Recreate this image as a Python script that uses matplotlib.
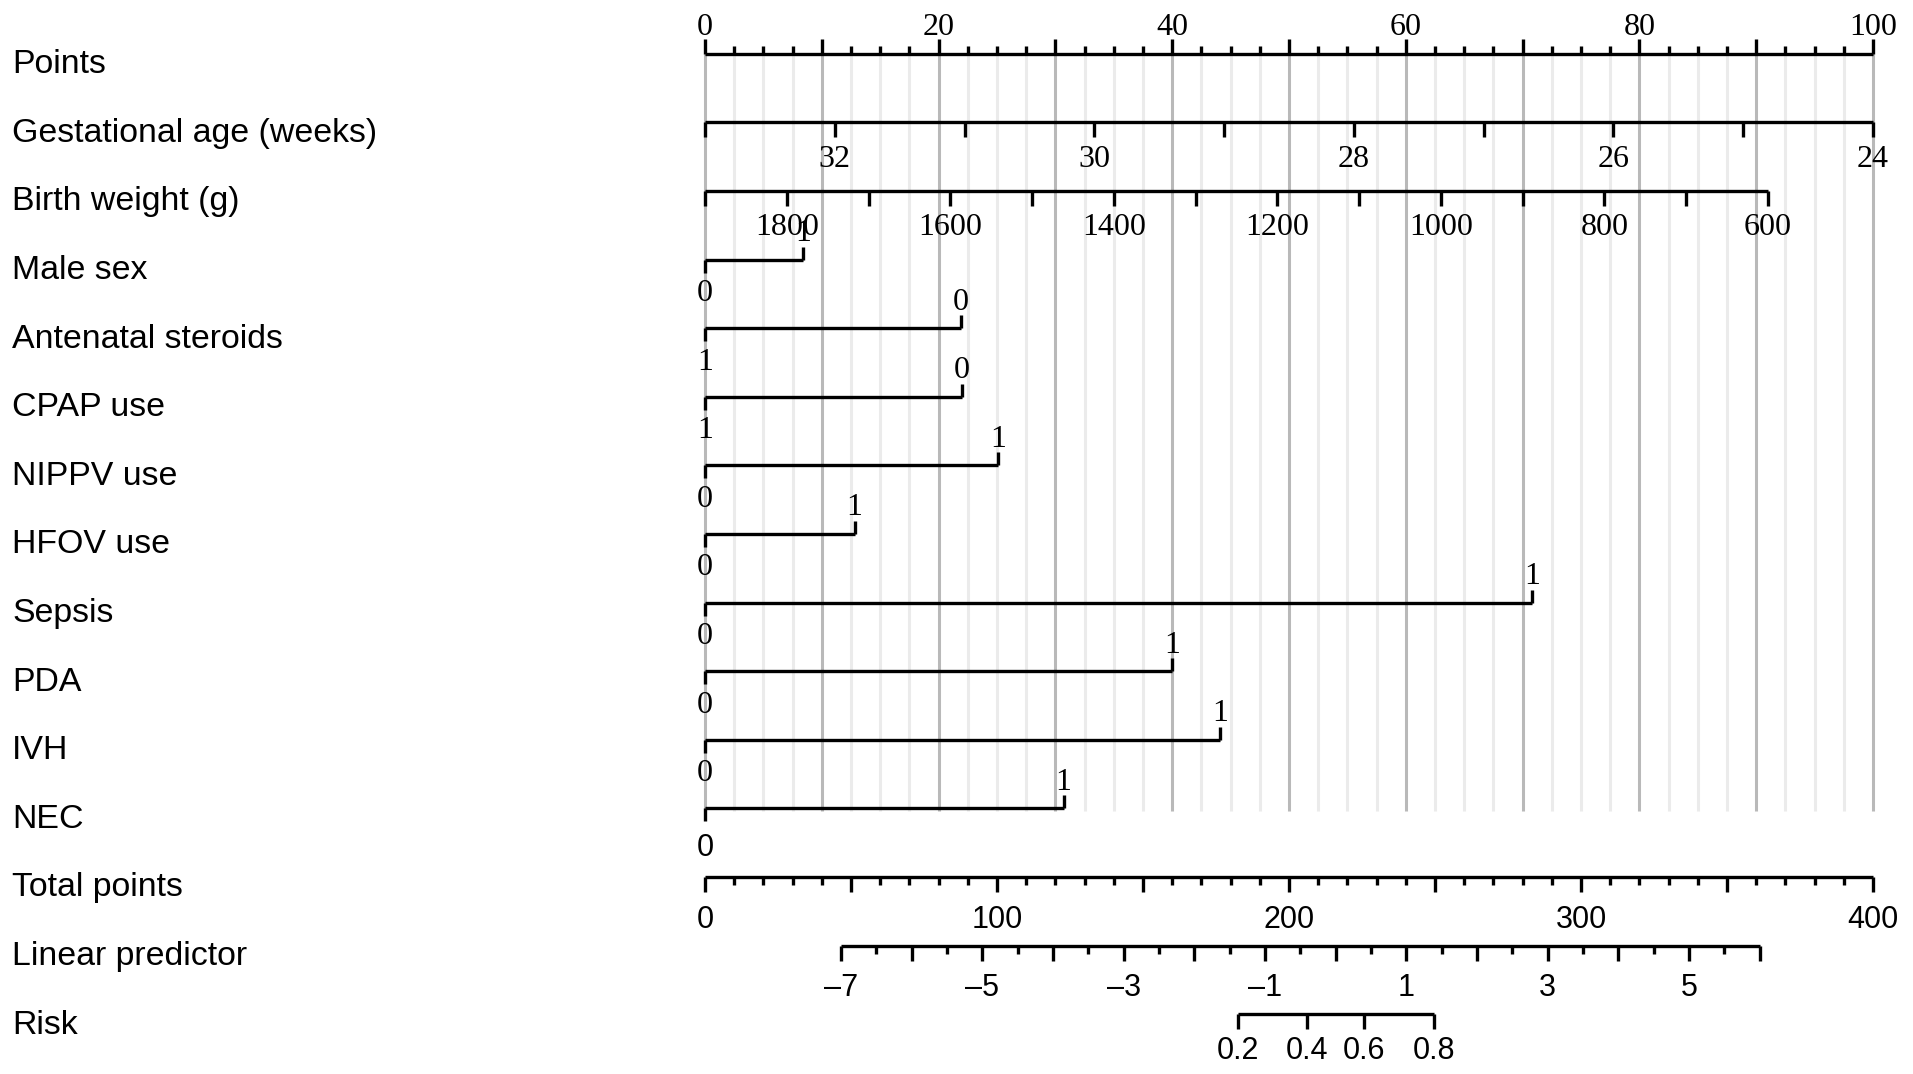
import numpy as np
import matplotlib.pyplot as plt

# Row names, top to bottom
row_labels = ['Points', 'Gestational age (weeks)', 'Birth weight (g)', 'Male sex',
              'Antenatal steroids', 'CPAP use', 'NIPPV use', 'HFOV use', 'Sepsis',
              'PDA', 'IVH', 'NEC', 'Total points', 'Linear predictor', 'Risk']

# Points scale
points_ticks = [i * 2.5 for i in range(41)]
points_labels = [0, 20, 40, 60, 80, 100]

# Gestational age: weeks -> points
ga_weeks = [33, 32, 31, 30, 29, 28, 27, 26, 25, 24]
ga_labels = [32, 30, 28, 26, 24]
ga_ends = (33, 24)
ga_ends_pts = (0, 100)

# Birth weight: grams -> points
bw_grams = [1900, 1800, 1700, 1600, 1500, 1400, 1300, 1200, 1100, 1000, 900, 800, 700, 600]
bw_labels = [1800, 1600, 1400, 1200, 1000, 800, 600]
bw_ends = (1900, 600)
bw_ends_pts = (0, 91)

# Binary predictors: points of the level on the right end
bin_names = ['Male sex', 'Antenatal steroids', 'CPAP use', 'NIPPV use', 'HFOV use',
             'Sepsis', 'PDA', 'IVH', 'NEC']
bin_points = [8.4, 21.9, 22.0, 25.1, 12.8, 70.8, 40.0, 44.1, 30.7]
bin_left = ['0', '1', '1', '0', '0', '0', '0', '0', '0']
bin_right = ['1', '0', '0', '1', '1', '1', '1', '1', '1']

# Total points
total_ticks = list(range(0, 401, 10))
total_labels = [0, 100, 200, 300, 400]
total_max = 400

# Linear predictor
lp_ticks = [-7 + 0.5 * i for i in range(27)]
lp_labels = [-7, -5, -3, -1, 1, 3, 5]
lp_zero_total = 216.0
lp_unit_total = 24.2

# Risk
risk_ticks = [0.2, 0.4, 0.6, 0.8]


def lin(v, ends, ends_pts):
    return ends_pts[0] + (np.asarray(v, float) - ends[0]) * (ends_pts[1] - ends_pts[0]) / (ends[1] - ends[0])


def total_to_x(t):
    return np.asarray(t, float) * 100.0 / total_max


def lp_to_x(lp):
    return total_to_x(lp_zero_total + np.asarray(lp, float) * lp_unit_total)


W, H = 1913, 1074
fig = plt.figure(figsize=(W / 100, H / 100), dpi=100)
ax = fig.add_axes([0, 0, 1, 1])
px0, px100 = 705, 1873
ppu = (px100 - px0) / 100.0
ax.set_xlim(-px0 / ppu, (W - px0) / ppu)
ax.set_ylim(H, 0)
ax.axis('off')

row_y = [53.7 + 68.6 * i for i in range(len(row_labels))]
yr = dict(zip(row_labels, row_y))

sans = ['Liberation Sans', 'DejaVu Sans']
serif = ['Liberation Serif', 'DejaVu Serif']
lw = 2.4
k = 'black'
dy = 4  # visual centring of digits

# left labels
for name, y in zip(row_labels, row_y):
    ax.text((12 - px0) / ppu, y + 7 + dy, name, family=sans, fontsize=24.4,
            ha='left', va='center')

# grid
y_top, y_bot = yr['Points'], yr['NEC'] + 3
for p in points_ticks:
    major = abs(p % 10) < 1e-9
    ax.plot([p, p], [y_top, y_bot], color='#b9b9b9' if major else '#ebebeb',
            lw=2.2, zorder=0, solid_capstyle='butt')

# Points axis
y = yr['Points']
ax.plot([0, 100], [y, y], color=k, lw=lw, solid_capstyle='butt')
for p in points_ticks:
    L = 15 if abs(p % 10) < 1e-9 else 8
    ax.plot([p, p], [y, y - L], color=k, lw=lw, solid_capstyle='butt')
for p in points_labels:
    ax.text(p, y - 30 + dy, str(p), family=serif, fontsize=23, ha='center', va='center')

# Gestational age
y = yr['Gestational age (weeks)']
xs = lin(ga_weeks, ga_ends, ga_ends_pts)
ax.plot([xs.min(), xs.max()], [y, y], color=k, lw=lw, solid_capstyle='butt')
for x in xs:
    ax.plot([x, x], [y, y + 15], color=k, lw=lw, solid_capstyle='butt')
for w in ga_labels:
    ax.text(lin(w, ga_ends, ga_ends_pts), y + 33 + dy, str(w), family=serif, fontsize=23,
            ha='center', va='center')

# Birth weight
y = yr['Birth weight (g)']
xs = lin(bw_grams, bw_ends, bw_ends_pts)
ax.plot([xs.min(), xs.max()], [y, y], color=k, lw=lw, solid_capstyle='butt')
for x in xs:
    ax.plot([x, x], [y, y + 15], color=k, lw=lw, solid_capstyle='butt')
for g in bw_labels:
    ax.text(lin(g, bw_ends, bw_ends_pts), y + 33 + dy, str(g), family=serif, fontsize=23,
            ha='center', va='center')

# Binary predictors
for name, pts, lo, hi in zip(bin_names, bin_points, bin_left, bin_right):
    y = yr[name]
    ax.plot([0, pts], [y, y], color=k, lw=lw, solid_capstyle='butt')
    ax.plot([0, 0], [y, y + 13], color=k, lw=lw, solid_capstyle='butt')
    ax.plot([pts, pts], [y, y - 13], color=k, lw=lw, solid_capstyle='butt')
    ax.text(pts, y - 30 + dy, hi, family=serif, fontsize=23, ha='center', va='center')
    if name == 'NEC':
        ax.text(0, y + 36 + dy, lo, family=sans, fontsize=22, ha='center', va='center')
    else:
        ax.text(0, y + 30 + dy, lo, family=serif, fontsize=23, ha='center', va='center')

# Total points
y = yr['Total points']
ax.plot(total_to_x([0, total_max]), [y, y], color=k, lw=lw, solid_capstyle='butt')
for t in total_ticks:
    L = 15 if t % 50 == 0 else 8
    x = total_to_x(t)
    ax.plot([x, x], [y, y + L], color=k, lw=lw, solid_capstyle='butt')
for t in total_labels:
    ax.text(total_to_x(t), y + 39 + dy, str(t), family=sans, fontsize=22,
            ha='center', va='center')

# Linear predictor
y = yr['Linear predictor']
ax.plot(lp_to_x([lp_ticks[0], lp_ticks[-1]]), [y, y], color=k, lw=lw, solid_capstyle='butt')
for v in lp_ticks:
    L = 15 if float(v).is_integer() else 8
    x = lp_to_x(v)
    ax.plot([x, x], [y, y + L], color=k, lw=lw, solid_capstyle='butt')
for v in lp_labels:
    s = str(v) if v >= 0 else '\u2013' + str(-v)
    ax.text(lp_to_x(v), y + 39 + dy, s, family=sans, fontsize=22, ha='center', va='center')

# Risk
y = yr['Risk']
rx = lp_to_x(np.log(np.array(risk_ticks) / (1 - np.array(risk_ticks))))
ax.plot([rx.min(), rx.max()], [y, y], color=k, lw=lw, solid_capstyle='butt')
for x, r in zip(rx, risk_ticks):
    ax.plot([x, x], [y, y + 15], color=k, lw=lw, solid_capstyle='butt')
    ax.text(x, y + 33 + dy, f'{r:.1f}', family=sans, fontsize=22, ha='center', va='center')

fig.savefig('out.png', dpi=100)
